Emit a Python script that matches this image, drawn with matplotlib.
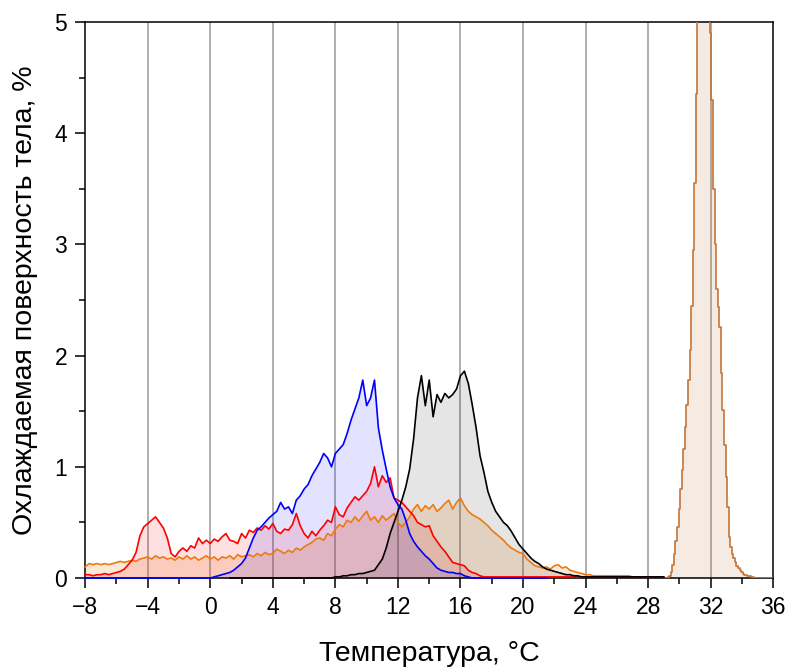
from matplotlib import pyplot as plt
from matplotlib.ticker import MultipleLocator
import numpy as np

plt.rcParams['font.family'] = ['Liberation Sans', 'DejaVu Sans']

# histograms of body surface temperature, % of area per bin
red_start, red_step = -8.0, 0.25
red_vals = [0.03, 0.03, 0.02, 0.03, 0.03, 0.04, 0.03, 0.04, 0.05, 0.06,
            0.08, 0.12, 0.16, 0.23, 0.38, 0.46, 0.49, 0.52, 0.55, 0.50,
            0.45, 0.36, 0.22, 0.19, 0.24, 0.27, 0.24, 0.29, 0.27, 0.36,
            0.31, 0.34, 0.31, 0.35, 0.33, 0.37, 0.40, 0.34, 0.33, 0.31,
            0.40, 0.36, 0.43, 0.41, 0.45, 0.43, 0.47, 0.44, 0.49, 0.42,
            0.40, 0.44, 0.43, 0.48, 0.58, 0.47, 0.40, 0.36, 0.42, 0.38,
            0.43, 0.47, 0.52, 0.50, 0.64, 0.57, 0.55, 0.63, 0.68, 0.73,
            0.70, 0.74, 0.78, 0.85, 1.00, 0.82, 0.92, 0.86, 0.90, 0.72,
            0.70, 0.68, 0.64, 0.60, 0.56, 0.50, 0.48, 0.46, 0.47, 0.38,
            0.33, 0.28, 0.24, 0.19, 0.14, 0.13, 0.12, 0.11, 0.07, 0.05,
            0.04, 0.02, 0.01, 0.01, 0.01, 0.01, 0.01, 0.01, 0.01, 0.01,
            0.01, 0.01, 0.01, 0.01, 0.01, 0.01, 0.01, 0.01, 0.01, 0.01,
            0.01, 0.01, 0.01, 0.01, 0.01, 0.01, 0.01, 0.01, 0.01, 0.01,
            0.01, 0.01, 0.01, 0.01, 0.01, 0.01, 0.01, 0.01, 0.01, 0.01,
            0.01, 0.01, 0.01, 0.01, 0.01, 0.01, 0.01, 0.01, 0.01]

blue_start, blue_step = -8.0, 0.25
blue_vals = [0.0] * 33 + [
    0.01, 0.02, 0.03, 0.04, 0.05, 0.07, 0.10, 0.13, 0.18, 0.27,
    0.36, 0.43, 0.46, 0.50, 0.54, 0.57, 0.60, 0.68, 0.62, 0.64,
    0.58, 0.70, 0.74, 0.80, 0.84, 0.92, 0.98, 1.04, 1.12, 1.08,
    1.00, 1.12, 1.16, 1.20, 1.30, 1.42, 1.52, 1.62, 1.78, 1.55,
    1.62, 1.78, 1.35, 1.15, 0.98, 0.82, 0.72, 0.66, 0.62, 0.52,
    0.40, 0.33, 0.28, 0.24, 0.20, 0.17, 0.13, 0.09, 0.07, 0.06,
    0.05, 0.05, 0.04, 0.04, 0.02, 0.01] + [0.0] * 20

black_start, black_step = 1.25, 0.25
black_vals = [0.0] * 27 + [
    0.01, 0.01, 0.02, 0.02, 0.03, 0.03, 0.04, 0.04, 0.05, 0.06,
    0.07, 0.12, 0.17, 0.27, 0.40, 0.50, 0.60, 0.70, 0.82, 0.98,
    1.25, 1.62, 1.82, 1.55, 1.78, 1.45, 1.65, 1.58, 1.66, 1.62,
    1.65, 1.70, 1.82, 1.86, 1.75, 1.56, 1.35, 1.10, 0.95, 0.78,
    0.68, 0.60, 0.55, 0.50, 0.47, 0.42, 0.36, 0.30, 0.26, 0.22,
    0.18, 0.15, 0.13, 0.10, 0.08, 0.07, 0.06, 0.05, 0.04, 0.03,
    0.03, 0.02, 0.02, 0.01, 0.01] + [0.01] * 20

orange_start, orange_step = -8.0, 0.25
orange_vals = [0.10, 0.13, 0.12, 0.13, 0.12, 0.13, 0.12, 0.13, 0.14, 0.15,
               0.14, 0.15, 0.16, 0.15, 0.17, 0.18, 0.19, 0.17, 0.20, 0.18,
               0.19, 0.17, 0.18, 0.16, 0.19, 0.17, 0.20, 0.17, 0.19, 0.16,
               0.18, 0.20, 0.17, 0.19, 0.16, 0.19, 0.18, 0.20, 0.17, 0.21,
               0.19, 0.20, 0.21, 0.19, 0.22, 0.20, 0.23, 0.21, 0.22, 0.26,
               0.24, 0.22, 0.25, 0.23, 0.27, 0.25, 0.28, 0.30, 0.32, 0.35,
               0.36, 0.34, 0.40, 0.38, 0.44, 0.48, 0.46, 0.52, 0.50, 0.55,
               0.51, 0.56, 0.60, 0.52, 0.55, 0.50, 0.56, 0.52, 0.55, 0.58,
               0.50, 0.46, 0.50, 0.55, 0.62, 0.66, 0.60, 0.65, 0.62, 0.66,
               0.60, 0.63, 0.67, 0.70, 0.62, 0.68, 0.72, 0.65, 0.60, 0.57,
               0.55, 0.53, 0.50, 0.47, 0.43, 0.40, 0.37, 0.34, 0.30, 0.27,
               0.25, 0.23, 0.22, 0.17, 0.14, 0.11, 0.10, 0.09, 0.10, 0.08,
               0.11, 0.12, 0.09, 0.10, 0.07, 0.06, 0.05, 0.04, 0.03, 0.03,
               0.02, 0.02, 0.02, 0.02, 0.02, 0.02, 0.02, 0.02, 0.02, 0.02,
               0.01, 0.01, 0.01, 0.01, 0.01, 0.01, 0.01, 0.01]

brown_start, brown_step = 29.0, 0.1
brown_vals = [0.0, 0.0, 0.0, 0.01, 0.02, 0.05, 0.12, 0.22, 0.33, 0.46,
              0.62, 0.80, 0.97, 1.16, 1.36, 1.56, 1.78, 2.05, 2.45, 2.95,
              3.55, 4.35, 5.6, 6.4, 6.9, 7.1, 7.0, 6.7, 6.2, 5.5,
              4.9, 4.3, 3.5, 3.0, 2.6, 2.44, 2.26, 1.84, 1.51, 1.2,
              0.91, 0.64, 0.37, 0.28, 0.22, 0.18, 0.14, 0.11, 0.09, 0.07,
              0.05, 0.04, 0.03, 0.03, 0.02, 0.02, 0.01, 0.01] + [0.0] * 13

# start, step, values, line colour, fill alpha, drawstyle, clip
series = [
    (brown_start, brown_step, brown_vals, '#c47538', 0.14, 'steps-mid', True),
    (orange_start, orange_step, orange_vals, '#ec7a12', 0.16, 'default', False),
    (red_start, red_step, red_vals, '#ff0000', 0.12, 'default', False),
    (blue_start, blue_step, blue_vals, '#0000ff', 0.11, 'default', False),
    (black_start, black_step, black_vals, '#000000', 0.10, 'default', False),
]

fig = plt.figure(figsize=(7.89, 6.69), dpi=100)
ax = fig.add_axes([0.108, 0.136, 0.872, 0.831])

for xg in range(-4, 36, 4):
    ax.axvline(xg, color='#9a9a9a', lw=1.1, zorder=0)

for start, step, vals, lc, fa, ds, clip in series:
    t = start + step * np.arange(len(vals))
    v = np.array(vals)
    step_kw = {'step': 'mid'} if ds == 'steps-mid' else {}
    ax.fill_between(t, 0, v, color=lc, alpha=fa, lw=0, zorder=1, **step_kw)
    ax.plot(t, v, color=lc, lw=1.2, drawstyle=ds, zorder=3, clip_on=clip)

ax.set_xlim(-8, 36)
ax.set_ylim(0, 5)
ax.xaxis.set_major_locator(MultipleLocator(4))
ax.xaxis.set_minor_locator(MultipleLocator(2))
ax.yaxis.set_major_locator(MultipleLocator(1))
ax.yaxis.set_minor_locator(MultipleLocator(0.5))
ax.tick_params(which='major', direction='out', length=7, width=1.1, labelsize=16.5, pad=6)
ax.tick_params(which='minor', direction='out', length=4, width=1.1)
for sp in ax.spines.values():
    sp.set_linewidth(1.1)

ax.set_xlabel('Температура, °C', fontsize=20.5, labelpad=16)
ax.set_ylabel('Охлаждаемая поверхность тела, %', fontsize=20.5, labelpad=12)

fig.savefig('out.png', dpi=100)
